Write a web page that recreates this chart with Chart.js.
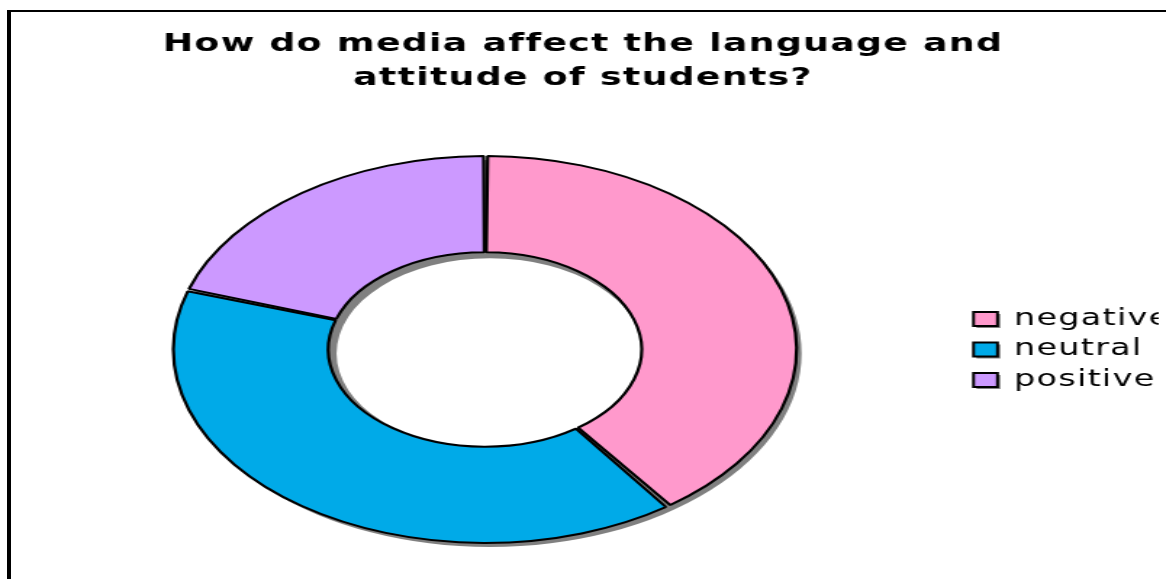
<!DOCTYPE html>
<html lang="en">
<head>
<meta charset="utf-8">
<title>How do media affect the language and attitude of students?</title>
<script src="https://cdn.jsdelivr.net/npm/chart.js@4.4.1/dist/chart.umd.min.js"></script>
<style>
    html, body { margin: 0; padding: 0; background: #fff; overflow: hidden; }
    body { width: 1166px; height: 579px; position: relative; }
    /* el gráfico original está estirado a lo ancho */
    #lienzo {
        position: absolute; left: 0; top: 0;
        width: 804px; height: 579px;
        transform: scaleX(1.4502); transform-origin: 0 0;
    }
    #marco {
        position: absolute; left: 7px; top: 10px;
        width: 2000px; height: 2000px;
        border-left: 4px solid #000; border-top: 2px solid #000;
        pointer-events: none;
    }
</style>
</head>
<body>
<div id="lienzo"><canvas id="grafico" width="804" height="579"></canvas></div>
<div id="marco"></div>
<script>
// Datos del gráfico
const categorias = ['negative', 'neutral', 'positive'];
const valores = [40, 40, 20];
const colores = ['#FF99CC', '#00AAE8', '#CC99FF'];
const titulo = ['How do media affect the language and', 'attitude of students?'];

// factor para que la dona quede elíptica
const ESTIRAR = 1.1105;

document.addEventListener('DOMContentLoaded', function () {
    const ctx = document.getElementById('grafico').getContext('2d');

    // Plugin: sombra gris + dona elíptica
    const pluginElipse = {
        id: 'elipse',
        beforeDraw(chart) {
            const c = chart.ctx;
            c.letterSpacing = '0.9px';
            // sombra de las cajas de la leyenda
            const cajas = chart.legend.legendHitBoxes || [];
            const etiquetas = chart.options.plugins.legend.labels;
            c.save();
            c.fillStyle = '#808080';
            cajas.forEach(function (caja) {
                const arriba = caja.top + (etiquetas.font.size - etiquetas.boxHeight) / 2;
                c.fillRect(caja.left + 2, arriba + 2, etiquetas.boxWidth, etiquetas.boxHeight);
            });
            c.restore();
        },
        beforeDatasetsDraw(chart) {
            const arco = chart.getDatasetMeta(0).data[0];
            const c = chart.ctx;
            const x = arco.x, y = arco.y;
            c.save();
            c.translate(x, y);
            c.scale(ESTIRAR, 1);
            c.translate(-x, -y);
            // sombra del anillo
            c.fillStyle = '#808080';
            c.beginPath();
            c.arc(x + 3.1, y + 4, arco.outerRadius + 1, 0, Math.PI * 2);
            c.arc(x + 3.1, y + 4, arco.innerRadius - 1, 0, Math.PI * 2, true);
            c.fill();
        },
        afterDatasetsDraw(chart) {
            chart.ctx.restore();
        }
    };

    const miGrafico = new Chart(ctx, {
        type: 'doughnut',
        data: {
            labels: categorias,
            datasets: [{
                data: valores,
                backgroundColor: colores,
                borderColor: '#000',
                borderWidth: 2,
                spacing: 2,
                radius: 192.5,
                cutout: '50%',
                clip: false
            }]
        },
        options: {
            responsive: false,
            animation: false,
            devicePixelRatio: 1,
            events: [],
            layout: { padding: { left: 5, right: 5, top: 0, bottom: 0 } },
            plugins: {
                title: {
                    display: true,
                    text: titulo,
                    color: '#000',
                    font: { family: 'DejaVu Sans', size: 25, weight: 'bold', lineHeight: 34 / 25 },
                    padding: { top: 27, bottom: 25 }
                },
                legend: {
                    position: 'right',
                    fullSize: false,
                    maxWidth: 135.2,
                    labels: {
                        boxWidth: 16.5,
                        boxHeight: 14,
                        padding: 7.5,
                        color: '#000',
                        font: { family: 'DejaVu Sans', size: 23 }
                    }
                },
                tooltip: { enabled: false }
            }
        },
        plugins: [pluginElipse]
    });
});
</script>
</body>
</html>
